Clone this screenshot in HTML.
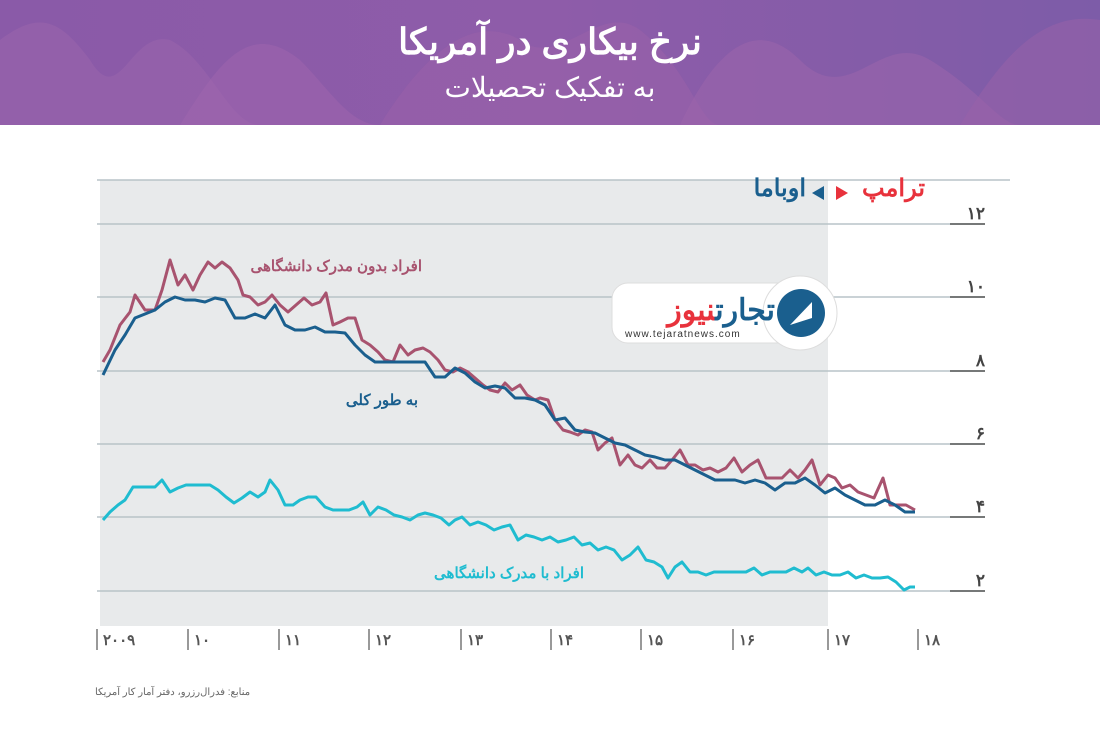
<!DOCTYPE html>
<html><head><meta charset="utf-8">
<style>
html,body{margin:0;padding:0;background:#fff;}
body{width:1100px;height:741px;overflow:hidden;position:relative;font-family:"Liberation Sans","Noto Sans CJK SC",sans-serif;}
</style></head>
<body>
<svg width="1100" height="741" viewBox="0 0 1100 741" xmlns="http://www.w3.org/2000/svg" style="position:absolute;left:0;top:0">
<defs>
<linearGradient id="hg" x1="0" y1="0" x2="1" y2="0">
<stop offset="0" stop-color="#8a5aa8"/><stop offset="0.5" stop-color="#8e5ca9"/><stop offset="1" stop-color="#7d5ca8"/>
</linearGradient>
</defs>
<rect x="0" y="0" width="1100" height="125" fill="url(#hg)"/>
<path d="M0,125 L0,40 C40,10 60,20 90,60 C120,110 130,30 170,40 C210,60 230,125 260,125 Z" fill="#9a64ab" opacity="0.6"/>
<path d="M180,125 C220,60 250,20 300,60 C330,90 350,125 380,125Z" fill="#a066ad" opacity="0.5"/>
<path d="M380,125 C420,60 470,10 520,40 C560,70 600,0 640,30 C690,70 700,125 720,125Z" fill="#9c62aa" opacity="0.5"/>
<path d="M680,125 C720,40 760,20 800,60 C850,110 880,30 930,60 C980,90 1000,125 1020,125Z" fill="#9e66ac" opacity="0.5"/>
<path d="M960,125 C1000,60 1040,10 1100,20 L1100,125Z" fill="#9a62a8" opacity="0.5"/>
<text x="550" y="54" text-anchor="middle" fill="#fff" font-size="36" font-weight="bold" direction="rtl">نرخ بیکاری در آمریکا</text>
<text x="550" y="97" text-anchor="middle" fill="#fff" font-size="28" direction="rtl">به تفکیک تحصیلات</text>

<rect x="100" y="180" width="728" height="446" fill="#e8eaeb"/>
<g stroke="#b8c3c8" stroke-width="1.5">
<line x1="97" y1="180" x2="1010" y2="180"/>
<line x1="97" y1="224" x2="985" y2="224"/>
<line x1="97" y1="297" x2="985" y2="297"/>
<line x1="97" y1="371" x2="985" y2="371"/>
<line x1="97" y1="444" x2="985" y2="444"/>
<line x1="97" y1="517" x2="985" y2="517"/>
<line x1="97" y1="591" x2="985" y2="591"/>
</g>
<g stroke="#555" stroke-width="1.5">
<line x1="950" y1="224" x2="985" y2="224"/><line x1="950" y1="297" x2="985" y2="297"/>
<line x1="950" y1="371" x2="985" y2="371"/><line x1="950" y1="444" x2="985" y2="444"/>
<line x1="950" y1="517" x2="985" y2="517"/><line x1="950" y1="591" x2="985" y2="591"/>
</g>
<g fill="#444" font-size="17" font-weight="bold" text-anchor="end">
<text x="985" y="219">۱۲</text><text x="985" y="292">۱۰</text><text x="985" y="366">۸</text>
<text x="985" y="439">۶</text><text x="985" y="512">۴</text><text x="985" y="586">۲</text>
</g>
<g stroke="#777" stroke-width="1.5">
<line x1="97" y1="629" x2="97" y2="650"/><line x1="188" y1="629" x2="188" y2="650"/>
<line x1="279" y1="629" x2="279" y2="650"/><line x1="369" y1="629" x2="369" y2="650"/>
<line x1="461" y1="629" x2="461" y2="650"/><line x1="551" y1="629" x2="551" y2="650"/>
<line x1="641" y1="629" x2="641" y2="650"/><line x1="733" y1="629" x2="733" y2="650"/>
<line x1="828" y1="629" x2="828" y2="650"/><line x1="918" y1="629" x2="918" y2="650"/>
</g>
<g fill="#555" font-size="15" font-weight="bold">
<text x="103" y="645">۲۰۰۹</text><text x="194" y="645">۱۰</text><text x="285" y="645">۱۱</text>
<text x="375" y="645">۱۲</text><text x="467" y="645">۱۳</text><text x="557" y="645">۱۴</text>
<text x="647" y="645">۱۵</text><text x="739" y="645">۱۶</text><text x="834" y="645">۱۷</text><text x="924" y="645">۱۸</text>
</g>
<text x="95" y="695" text-anchor="end" fill="#666" font-size="10" direction="rtl">منابع: فدرال‌رزرو، دفتر آمار کار آمریکا</text>

<polyline fill="none" stroke="#a8536f" stroke-width="3" stroke-linejoin="round" points="103,362 110,350 120,325 130,312 135,295 145,310 155,310 162,290 170,260 178,285 185,275 193,290 200,275 208,262 215,268 222,262 230,268 238,280 243,295 250,297 258,305 265,302 272,295 280,305 288,312 296,305 304,298 312,305 320,302 326,293 333,325 340,322 348,318 355,318 362,340 370,345 378,352 385,360 393,362 400,345 408,355 415,350 423,348 430,352 438,360 445,370 453,372 460,368 468,372 475,378 483,385 490,390 498,392 505,383 512,390 520,385 527,395 535,400 540,398 548,400 555,420 563,430 570,432 578,435 585,430 592,432 598,450 605,443 612,438 620,465 628,455 635,465 642,468 650,460 657,468 665,468 672,460 680,450 688,465 695,465 703,470 710,468 718,472 726,468 734,458 742,472 750,465 758,460 766,478 774,478 782,478 790,470 798,478 805,470 812,460 820,485 828,475 835,478 842,488 850,485 858,492 866,495 874,498 883,478 890,505 898,505 906,505 915,510"/>
<polyline fill="none" stroke="#1a5f8e" stroke-width="3" stroke-linejoin="round" points="103,375 115,350 125,335 135,318 145,314 155,310 165,302 175,297 185,300 195,300 205,302 215,298 225,300 235,318 245,318 255,314 265,318 275,305 285,325 295,330 305,330 315,327 325,332 335,332 345,333 355,345 365,355 375,362 385,362 395,362 405,362 415,362 425,362 435,377 445,377 455,368 465,373 475,382 485,388 495,386 505,388 515,398 525,398 535,400 545,405 555,420 565,418 575,430 585,432 595,433 605,438 615,443 625,445 635,450 645,455 655,457 665,460 675,460 685,465 695,470 705,475 715,480 725,480 735,480 745,483 755,480 765,483 775,490 785,483 795,483 805,478 815,485 825,493 835,488 845,495 855,500 865,505 875,505 885,500 895,505 905,512 915,512"/>
<polyline fill="none" stroke="#1fbcd0" stroke-width="3" stroke-linejoin="round" points="103,520 110,512 118,505 125,500 133,487 140,487 148,487 155,487 162,480 170,492 178,488 186,485 194,485 202,485 210,485 218,490 226,497 234,503 242,498 250,492 258,497 265,492 270,480 278,490 285,505 293,505 300,500 308,497 316,497 325,507 333,510 341,510 349,510 357,507 363,502 370,515 378,507 386,510 394,515 402,517 410,520 418,515 425,513 433,515 441,518 449,525 455,520 462,517 470,525 478,522 486,525 494,530 502,527 510,525 518,540 526,535 534,537 542,540 550,537 558,542 566,540 574,537 582,545 590,543 598,550 606,547 614,550 622,560 630,555 638,547 646,560 654,562 662,567 668,578 675,567 682,562 690,572 698,572 706,575 714,572 722,572 730,572 738,572 746,572 754,568 762,575 770,572 778,572 786,572 794,568 802,572 808,568 816,575 824,572 832,575 840,575 848,572 856,578 864,575 872,578 880,578 888,577 896,582 904,590 910,587 915,587"/>

<text x="422" y="271" text-anchor="start" fill="#a8536f" font-size="15" font-weight="bold" direction="rtl">افراد بدون مدرک دانشگاهی</text>
<text x="418" y="405" text-anchor="start" fill="#1a5f8e" font-size="15" font-weight="bold" direction="rtl">به طور کلی</text>
<text x="584" y="578" text-anchor="start" fill="#1fbcd0" font-size="15" font-weight="bold" direction="rtl">افراد با مدرک دانشگاهی</text>

<text x="925" y="196" text-anchor="start" fill="#e8323c" font-size="24" font-weight="bold" direction="rtl">ترامپ</text>
<polygon points="836,186 848,193 836,200" fill="#e8323c"/>
<polygon points="824,186 812,193 824,200" fill="#1a5f8e"/>
<text x="806" y="196" text-anchor="start" fill="#1a5f8e" font-size="24" font-weight="bold" direction="rtl">اوباما</text>

<g>
<rect x="612" y="283" width="200" height="60" rx="16" fill="#fff" stroke="#ddd"/>
<circle cx="800" cy="313" r="37" fill="#fff" stroke="#ddd"/>
<circle cx="801" cy="313" r="24" fill="#1a5f8e"/>
<path d="M790,325 L812,302 L812,318 Z" fill="#fff"/>
<text x="775" y="320" text-anchor="start" fill="#1a5f8e" font-size="30" font-weight="bold" direction="rtl">تجارت<tspan fill="#e8323c">نیوز</tspan></text>
<text x="625" y="337" fill="#333" font-size="10" letter-spacing="1">www.tejaratnews.com</text>
</g>
</svg>
</body></html>
